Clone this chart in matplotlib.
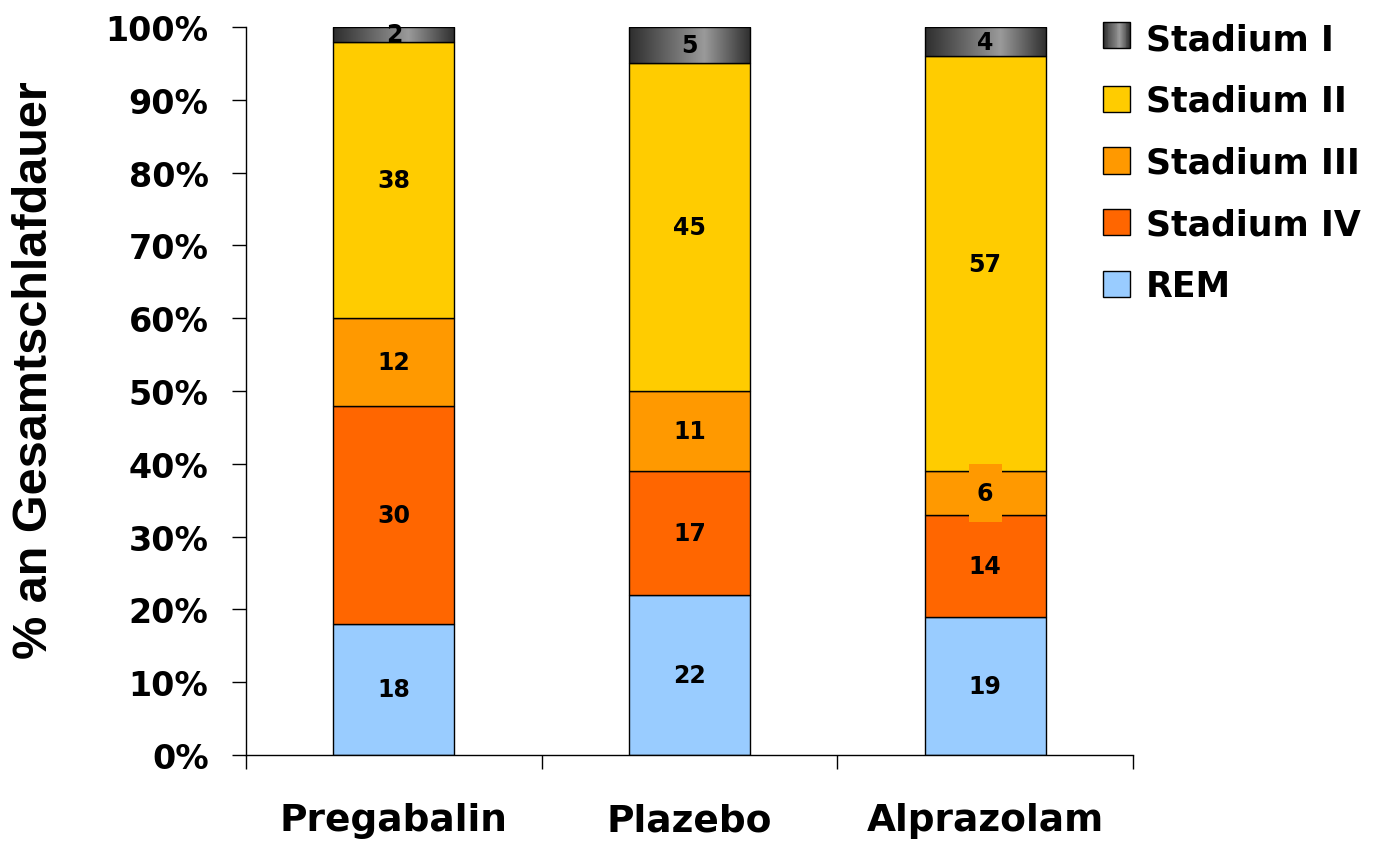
import matplotlib
matplotlib.use("Agg")
import matplotlib.pyplot as plt
import matplotlib.patches as mpatches
from matplotlib.path import Path
from matplotlib.colors import LinearSegmentedColormap
import numpy as np

# --- data -------------------------------------------------------------
groups = ["Pregabalin", "Plazebo", "Alprazolam"]
stages = ["REM", "Stadium IV", "Stadium III", "Stadium II", "Stadium I"]
rem = [18, 22, 19]
stadium_iv = [30, 17, 14]
stadium_iii = [12, 11, 6]
stadium_ii = [38, 45, 57]
stadium_i = [2, 5, 4]
series = [rem, stadium_iv, stadium_iii, stadium_ii, stadium_i]
y_ticks = [0, 10, 20, 30, 40, 50, 60, 70, 80, 90, 100]

colors = {
    "REM": "#99CCFF",
    "Stadium IV": "#FF6600",
    "Stadium III": "#FF9900",
    "Stadium II": "#FFCC00",
    "Stadium I": "#555555",
}

grey_grad = LinearSegmentedColormap.from_list(
    "grey_grad", [(0.0, "#2e2e2e"), (0.62, "#9a9a9a"), (1.0, "#2e2e2e")])


def tall_box(x0, y0, width, height, mutation_size):
    """Rectangular box with separate horizontal / vertical padding."""
    px = 0.35 * mutation_size
    py = 0.72 * mutation_size
    x0, y0 = x0 - px, y0 - py
    x1, y1 = x0 + width + 2 * px, y0 + height + 2 * py
    return Path([(x0, y0), (x1, y0), (x1, y1), (x0, y1), (x0, y0)], closed=True)


class GradientHandler:
    def legend_artist(self, legend, orig_handle, fontsize, handlebox):
        x0, y0 = handlebox.xdescent, handlebox.ydescent
        w, h = handlebox.width, handlebox.height
        n = 30
        for i in range(n):
            c = grey_grad((i + 0.5) / n)
            r = mpatches.Rectangle((x0 + w * i / n, y0), w / n + 0.3, h,
                                   facecolor=c, edgecolor="none",
                                   transform=handlebox.get_transform())
            handlebox.add_artist(r)
        frame = mpatches.Rectangle((x0, y0), w, h, facecolor="none",
                                   edgecolor="black", linewidth=1.0,
                                   transform=handlebox.get_transform())
        handlebox.add_artist(frame)
        return frame


fig = plt.figure(figsize=(13.74, 8.45), dpi=100)
ax = fig.add_axes([246 / 1374, 89 / 845, 887 / 1374, 728 / 845])

x = np.arange(len(groups))
bar_w = 0.41
bottom = np.zeros(len(groups))
for name, vals in zip(stages, series):
    vals = np.array(vals, dtype=float)
    if name == "Stadium I":
        bars = ax.bar(x, vals, bar_w, bottom=bottom, facecolor="none",
                      edgecolor="black", linewidth=1.0, zorder=3)
        for p in bars.patches:
            grad = np.linspace(0, 1, 256).reshape(1, -1)
            im = ax.imshow(grad, cmap=grey_grad, aspect="auto",
                           extent=(p.get_x(), p.get_x() + p.get_width(),
                                   p.get_y(), p.get_y() + p.get_height()),
                           zorder=2, interpolation="bilinear")
            im.set_clip_path(p)
    else:
        bars = ax.bar(x, vals, bar_w, bottom=bottom, color=colors[name],
                      edgecolor="black", linewidth=1.0, zorder=2)
    labels = ax.bar_label(bars, labels=[f"{v:g}" for v in vals],
                          label_type="center", fontsize=17,
                          fontweight="bold", color="black", zorder=5)
    if name == "Stadium III":
        for t in labels:
            t.set_bbox(dict(boxstyle=tall_box, facecolor=colors[name],
                            edgecolor="none"))
    bottom += vals

ax.set_xlim(-0.5, 2.5)
ax.set_ylim(0, 100)

ax.set_yticks(y_ticks)
ax.set_yticklabels([f"{v}%" for v in y_ticks])
ax.tick_params(axis="y", direction="out", length=10, width=1, pad=17,
               labelsize=24)
for t in ax.get_yticklabels():
    t.set_fontweight("bold")

ax.set_xticks(x)
ax.set_xticklabels(groups)
ax.set_xticks([-0.5, 0.5, 1.5, 2.5], minor=True)
ax.tick_params(axis="x", which="major", length=0, pad=34, labelsize=27)
ax.tick_params(axis="x", which="minor", direction="out", length=10, width=1)
for t in ax.get_xticklabels():
    t.set_fontweight("bold")

for s in ["top", "right"]:
    ax.spines[s].set_visible(False)
for s in ["left", "bottom"]:
    ax.spines[s].set_linewidth(1.0)
    ax.spines[s].set_color("black")

fig.text(35 / 1374, 1 - 370 / 845, "% an Gesamtschlafdauer", rotation=90,
         ha="center", va="center", fontsize=35, fontweight="bold",
         family=["Liberation Sans", "DejaVu Sans"])

# legend, top entry first
handles = []
handler_map = {}
for name in stages[::-1]:
    h = mpatches.Patch(facecolor=colors[name], edgecolor="black", linewidth=1.0,
                       label=name)
    handles.append(h)
    if name == "Stadium I":
        handler_map[h] = GradientHandler()
leg = fig.legend(handles=handles, handler_map=handler_map, loc="upper left",
                 bbox_to_anchor=(1103 / 1374, 1 - 23 / 845), frameon=False,
                 prop=dict(size=25, weight="bold"), handlelength=0.78,
                 handleheight=0.78, handletextpad=0.45, labelspacing=0.8,
                 borderpad=0, borderaxespad=0)

fig.savefig("out.png", dpi=100)
